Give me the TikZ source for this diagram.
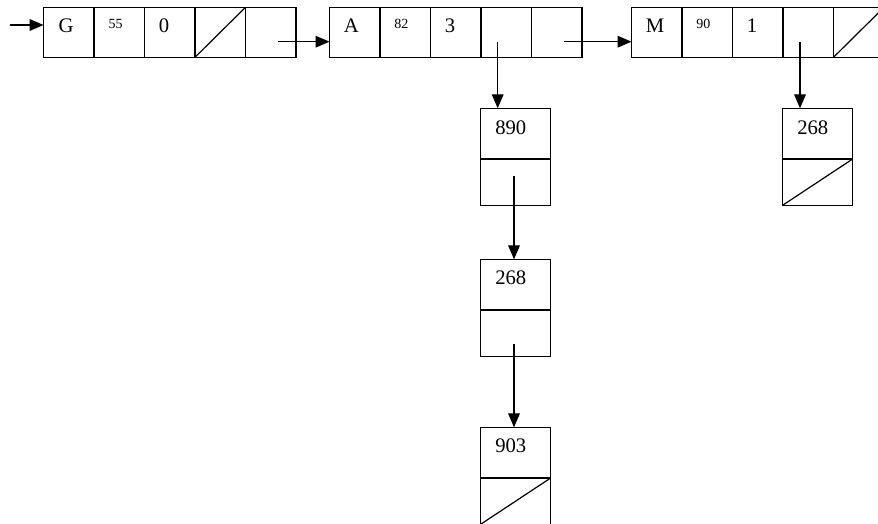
\documentclass[tikz,border=0pt]{standalone}
\usepackage{fontspec}
\setmainfont{Liberation Serif}
\usetikzlibrary{arrows.meta}
\begin{document}
\begin{tikzpicture}[x=0.75pt,y=-0.75pt,
  cell/.style={draw, line width=0.9pt, minimum width=37.875pt, minimum height=37.5pt, inner sep=0pt, outer sep=0pt, anchor=north west},
  vtop/.style={draw, line width=0.9pt, minimum width=52.5pt, minimum height=38pt, inner sep=0pt, outer sep=0pt, anchor=north west},
  vbot/.style={draw, line width=0.9pt, minimum width=52.5pt, minimum height=34.7pt, inner sep=0pt, outer sep=0pt, anchor=north west},
  big/.style={anchor=base west, inner sep=0pt, font=\fontsize{15.5}{18}\selectfont},
  small/.style={anchor=base west, inner sep=0pt, font=\fontsize{10.5}{12}\selectfont},
  arr/.style={line width=0.9pt, -{Triangle[length=10.5pt,width=8.8pt]}},
  slash/.style={line width=0.9pt}]
\useasboundingbox (0,0) rectangle (878,524);
\clip (0,0) rectangle (878,524);
% records in the top row
\foreach \i in {1,...,5} {
  \node[cell] (g\i) at ({43.5+(\i-1)*50.5},7.3) {};
  \node[cell] (a\i) at ({329.5+(\i-1)*50.5},7.3) {};
  \node[cell] (m\i) at ({631.5+(\i-1)*50.5},7.3) {};
}
\node[big] (tG) at (58.3,32.7) {G};
\node[small] (t55) at (108.3,28.3) {55};
\node[big] (t0) at (158.5,32.7) {0};
\node[big] (tA) at (343.5,32.7) {A};
\node[small] (t82) at (394,28.3) {82};
\node[big] (t3) at (444.5,32.7) {3};
\node[big] (tM) at (645.5,32.7) {M};
\node[small] (t90) at (696,28.3) {90};
\node[big] (t1) at (746.5,32.7) {1};
\draw[slash] (g4.south west) -- (g4.north east);
\draw[slash] (m5.south west) -- (m5.north east);
% vertical lists
\node[vtop] (v1t) at (480.7,108.3) {};
\node[vbot] (v1b) at (v1t.south west) {};
\node[vtop] (v2t) at (480.7,259.3) {};
\node[vbot] (v2b) at (v2t.south west) {};
\node[vtop] (v3t) at (480.7,427.3) {};
\node[vbot] (v3b) at (v3t.south west) {};
\node[vtop] (r1t) at (782.7,108.3) {};
\node[vbot] (r1b) at (r1t.south west) {};
\node[big] (t890) at (495,134.3) {890};
\node[big] (t268a) at (495,284.8) {268};
\node[big] (t903) at (495,452.8) {903};
\node[big] (t268b) at (797,134.3) {268};
\draw[slash] (v3b.south west) -- (v3b.north east);
\draw[slash] (r1b.south west) -- (r1b.north east);
% connectors
\coordinate (p0) at (10,25);
\coordinate (pg) at (278,41.7);
\coordinate (pa) at (564,41.7);
\coordinate (pa4) at (497.7,41.7);
\coordinate (pm4) at (800,41.7);
\coordinate (pv1) at (514,176);
\coordinate (pv2) at (514,344);
\draw[arr] (p0) -- (p0 -| g1.west);
\draw[arr] (pg) -- (pg -| a1.west);
\draw[arr] (pa) -- (pa -| m1.west);
\draw[arr] (pa4) -- (pa4 |- v1t.north);
\draw[arr] (pm4) -- (pm4 |- r1t.north);
\draw[arr] (pv1) -- (pv1 |- v2t.north);
\draw[arr] (pv2) -- (pv2 |- v3t.north);
\end{tikzpicture}
\end{document}
